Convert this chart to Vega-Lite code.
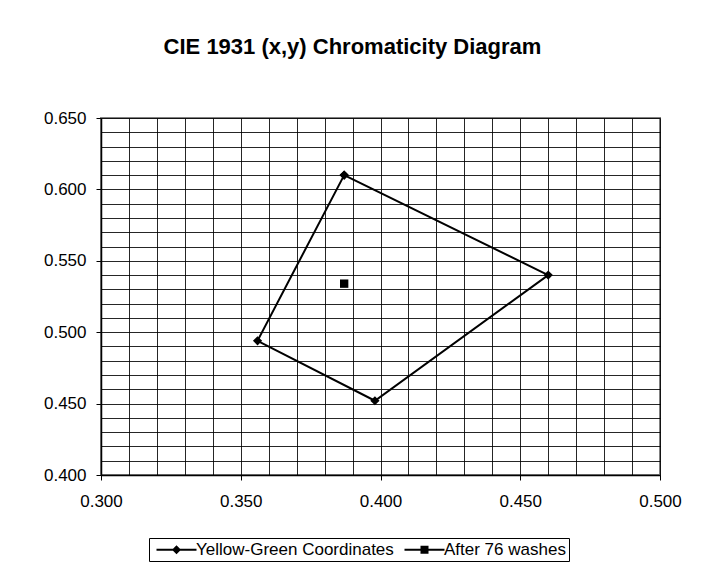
{
  "$schema": "https://vega.github.io/schema/vega-lite/v6.json",
  "autosize": "none",
  "padding": {"left": 101, "top": 118, "right": 45, "bottom": 107},
  "width": 559,
  "height": 357,
  "background": "white",
  "title": {
    "text": "CIE 1931 (x,y) Chromaticity Diagram",
    "font": "Liberation Sans",
    "fontSize": 22,
    "fontWeight": "bold",
    "color": "black",
    "anchor": "middle",
    "dx": -28,
    "offset": 50
  },
  "config": {
    "view": {"stroke": "#808080", "strokeWidth": 2},
    "axis": {
      "labelFont": "Liberation Sans",
      "labelFontSize": 17,
      "labelColor": "black",
      "domainColor": "black",
      "domainWidth": 1.5,
      "tickColor": "black",
      "tickSize": 5,
      "gridColor": "black",
      "gridWidth": 1,
      "gridOpacity": 0.85,
      "title": null
    }
  },
  "data": {
    "values": [
      {"series": "Yellow-Green Coordinates", "order": 1, "x": 0.387, "y": 0.610},
      {"series": "Yellow-Green Coordinates", "order": 2, "x": 0.460, "y": 0.540},
      {"series": "Yellow-Green Coordinates", "order": 3, "x": 0.398, "y": 0.452},
      {"series": "Yellow-Green Coordinates", "order": 4, "x": 0.356, "y": 0.494},
      {"series": "Yellow-Green Coordinates", "order": 5, "x": 0.387, "y": 0.610},
      {"series": "After 76 washes", "order": 1, "x": 0.387, "y": 0.534}
    ]
  },
  "encoding": {
    "x": {
      "field": "x", "type": "quantitative",
      "scale": {"domain": [0.3, 0.5], "nice": false, "zero": false},
      "axis": {
        "values": [0.30,0.31,0.32,0.33,0.34,0.35,0.36,0.37,0.38,0.39,0.40,0.41,0.42,0.43,0.44,0.45,0.46,0.47,0.48,0.49,0.50],
        "labelExpr": "(round(datum.value*100) % 5 == 0) ? format(datum.value, '.3f') : ''",
        "tickOpacity": {"condition": {"test": "round(datum.value*100) % 5 != 0", "value": 0}, "value": 1},
        "labelPadding": 13,
        "labelFlush": false,
        "labelOverlap": false
      }
    },
    "y": {
      "field": "y", "type": "quantitative",
      "scale": {"domain": [0.4, 0.65], "nice": false, "zero": false},
      "axis": {
        "values": [0.40,0.41,0.42,0.43,0.44,0.45,0.46,0.47,0.48,0.49,0.50,0.51,0.52,0.53,0.54,0.55,0.56,0.57,0.58,0.59,0.60,0.61,0.62,0.63,0.64,0.65],
        "labelExpr": "(round(datum.value*100) % 5 == 0) ? format(datum.value, '.3f') : ''",
        "tickOpacity": {"condition": {"test": "round(datum.value*100) % 5 != 0", "value": 0}, "value": 1},
        "labelPadding": 10,
        "labelFlush": false,
        "labelOverlap": false
      }
    },
    "color": {
      "field": "series", "type": "nominal",
      "scale": {"domain": ["Yellow-Green Coordinates", "After 76 washes"], "range": ["black", "black"]},
      "legend": {
        "title": null,
        "orient": "none",
        "legendX": 48,
        "legendY": 420,
        "direction": "horizontal",
        "labelFont": "Liberation Sans",
        "labelFontSize": 17,
        "labelColor": "black",
        "labelLimit": 400,
        "symbolSize": 100,
        "symbolStrokeWidth": 0,
        "symbolOffset": 16,
        "labelOffset": 11,
        "columnPadding": 6,
        "padding": 3,
        "strokeColor": "black",
        "fillColor": "white",
        "cornerRadius": 0,
        "encode": {
          "symbols": {
            "enter": {
              "shape": {"signal": "datum.value == 'After 76 washes' ? 'M-4,-0.2L4,-0.2L4,0.2L-4,0.2ZM-0.8,-0.8L0.8,-0.8L0.8,0.8L-0.8,0.8Z' : 'M-4,-0.2L4,-0.2L4,0.2L-4,0.2ZM0,-0.9L0.9,0L0,0.9L-0.9,0Z'"}
            },
            "update": {
              "shape": {"signal": "datum.value == 'After 76 washes' ? 'M-4,-0.2L4,-0.2L4,0.2L-4,0.2ZM-0.8,-0.8L0.8,-0.8L0.8,0.8L-0.8,0.8Z' : 'M-4,-0.2L4,-0.2L4,0.2L-4,0.2ZM0,-0.9L0.9,0L0,0.9L-0.9,0Z'"},
              "fill": {"value": "black"},
              "fillOpacity": {"value": 1},
              "strokeWidth": {"value": 0},
              "opacity": {"value": 1}
            }
          }
        }
      }
    }
  },
  "layer": [
    {
      "mark": {"type": "line", "strokeWidth": 2},
      "encoding": {"order": {"field": "order", "type": "quantitative"}}
    },
    {
      "transform": [{"filter": "datum.series == 'Yellow-Green Coordinates'"}],
      "mark": {"type": "point", "shape": "diamond", "filled": true, "size": 85, "opacity": 1}
    },
    {
      "transform": [{"filter": "datum.series == 'After 76 washes'"}],
      "mark": {"type": "point", "shape": "square", "filled": true, "size": 70, "opacity": 1}
    }
  ]
}
